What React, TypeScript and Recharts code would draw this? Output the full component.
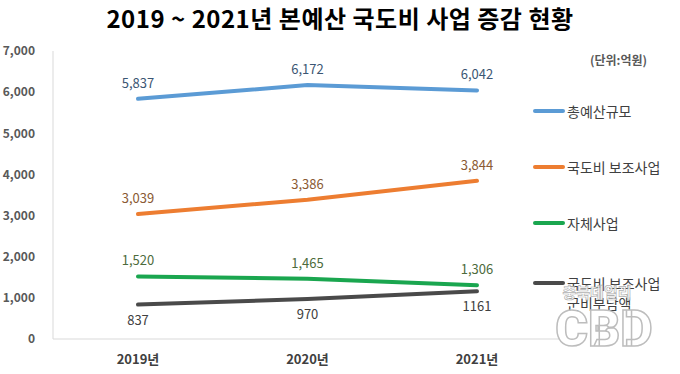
import React from 'react';
import { LineChart, Line, XAxis, YAxis, LabelList } from 'recharts';

const years = ['2019년', '2020년', '2021년'];
const totalBudget = [5837, 6172, 6042];
const subsidyProjects = [3039, 3386, 3844];
const ownProjects = [1520, 1465, 1306];
const countyShare = [837, 970, 1161];
const yTicks = [0, 1000, 2000, 3000, 4000, 5000, 6000, 7000];

const data = years.map((year, i) => ({
  year,
  total: totalBudget[i],
  subsidy: subsidyProjects[i],
  own: ownProjects[i],
  county: countyShare[i],
}));

const FONT = '"Noto Sans CJK KR", "Noto Sans", sans-serif';

const series = [
  { key: 'total', name: '총예산규모', color: '#5b9bd5', label: '#3b5673', pos: 'top' },
  { key: 'subsidy', name: '국도비 보조사업', color: '#ed7d31', label: '#8a5a33', pos: 'top' },
  { key: 'own', name: '자체사업', color: '#1aa64f', label: '#4d6b3c', pos: 'top' },
  { key: 'county', name: '국도비 보조사업\n군비부담액', color: '#4a4a4a', label: '#404040', pos: 'bottom' },
];

const legendY = [111, 167, 223, 283];

const fmt = (v: number) => v.toLocaleString('en-US');

const App: React.FC = () => {
  return (
    <div style={{ position: 'absolute', left: 0, top: 0, width: 680, height: 374, background: '#fff', fontFamily: FONT }}>
      <div style={{ position: 'absolute', left: 0, top: 0, width: 680, textAlign: 'center', fontSize: 24, fontWeight: 700, color: '#000', letterSpacing: 0.5 }}>
        2019 ~ 2021년 본예산 국도비 사업 증감 현황
      </div>
      <LineChart width={680} height={374} data={data} margin={{ top: 51, right: 118, bottom: 5, left: 0 }}>
        <XAxis
          dataKey="year"
          height={30}
          padding={{ left: 85, right: 85 }}
          axisLine={{ stroke: '#d9d9d9' }}
          tickLine={false}
          tickSize={6}
          tickMargin={10}
          tick={{ fill: '#404040', fontSize: 13, fontWeight: 700, fontFamily: FONT }}
        />
        <YAxis
          width={53}
          domain={[0, 7000]}
          ticks={yTicks}
          tickFormatter={fmt}
          axisLine={{ stroke: '#d9d9d9' }}
          tickLine={false}
          tickSize={6}
          tickMargin={12}
          tick={{ fill: '#595959', fontSize: 12, fontWeight: 700, fontFamily: FONT }}
        />
        {series.map((s) => (
          <Line
            key={s.key}
            dataKey={s.key}
            stroke={s.color}
            strokeWidth={4}
            dot={false}
            type="linear"
            strokeLinecap="round"
            isAnimationActive={false}
          >
            <LabelList
              dataKey={s.key}
              position={s.pos as any}
              offset={11}
              formatter={(v: any) => (s.key === 'county' ? String(v) : fmt(v))}
              style={{ fill: s.label, fontSize: 13, fontFamily: FONT }}
            />
          </Line>
        ))}
      </LineChart>
      <div style={{ position: 'absolute', left: 590, top: 51, fontSize: 12, fontWeight: 700, color: '#595959' }}>(단위:억원)</div>
      {series.map((s, i) => (
        <div key={s.key} style={{ position: 'absolute', left: 533, top: legendY[i] - 10, display: 'flex', alignItems: 'flex-start' }}>
          <div style={{ width: 32, height: 4, background: s.color, borderRadius: 2, marginTop: 8 }} />
          <div style={{ fontSize: 14, color: '#404040', lineHeight: '20px', whiteSpace: 'pre', marginLeft: 2 }}>{s.name}</div>
        </div>
      ))}
      <svg width={680} height={374} style={{ position: 'absolute', left: 0, top: 0, pointerEvents: 'none' }}>
        <text x={597} y={298} textAnchor="middle" fontSize={15} fontWeight={700} fill="#fff" stroke="#aaa" strokeWidth={0.7} fontFamily={FONT} opacity={0.9}>충북데일리</text>
        <text x={604} y={346} textAnchor="middle" fontSize={50} fontWeight={900} fill="#fff" stroke="#bdbdbd" strokeWidth={1.5} fontFamily="Roboto, sans-serif">CBD</text>
      </svg>
    </div>
  );
};

export default App;
